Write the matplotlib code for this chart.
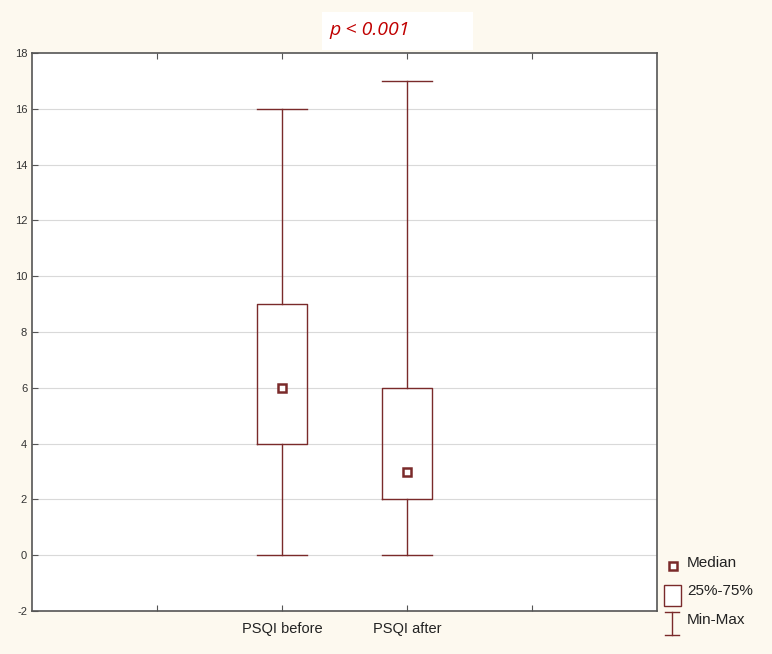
import matplotlib
matplotlib.use("Agg")
import matplotlib.pyplot as plt
from matplotlib.patches import Rectangle
from matplotlib.lines import Line2D

categories = ["PSQI before", "PSQI after"]
mins = [0, 0]
q1s = [4, 2]
medians = [6, 3]
q3s = [9, 6]
maxs = [16, 17]
positions = [2, 3]
p_text = "p < 0.001"

plt.rcParams['font.family'] = ['Liberation Sans', 'DejaVu Sans']
plt.rcParams['axes.unicode_minus'] = False

BG = "#fdf9ef"
DARK = "#7a2a2a"

fig = plt.figure(figsize=(7.72, 6.54), dpi=100, facecolor=BG)
ax = fig.add_axes([32/772, 1-611/654, 625/772, 558/654])
ax.set_facecolor("white")

stats = []
for c, lo, a, m, b, hi in zip(categories, mins, q1s, medians, q3s, maxs):
    stats.append(dict(label=c, whislo=lo, q1=a, med=m, q3=b, whishi=hi, fliers=[]))

ax.bxp(stats, positions=positions, widths=0.4, capwidths=0.4, showfliers=False,
       boxprops=dict(color=DARK, linewidth=1.0),
       whiskerprops=dict(color=DARK, linewidth=1.0),
       capprops=dict(color=DARK, linewidth=1.0),
       medianprops=dict(linestyle='none'),
       zorder=3)
ax.plot(positions, medians, linestyle='none', marker='s', markersize=6,
        markerfacecolor='white', markeredgecolor=DARK, markeredgewidth=1.8, zorder=4)

ax.set_xlim(0, 5)
ax.set_ylim(-2, 18)
ax.set_yticks(range(-2, 19, 2))
ax.set_xticks([1, 2, 3, 4])
ax.set_xticklabels(["", categories[0], categories[1], ""], fontsize=10.5)
ax.tick_params(axis='y', labelsize=8, direction='in', length=4, color='#555555', labelcolor='#333333')
ax.tick_params(axis='x', direction='in', length=4, color='#555555', labelcolor='#222222', pad=8)
ax.tick_params(axis='x', top=True)
for yv in range(0, 17, 2):
    ax.axhline(yv, color='#d9d9d9', linewidth=0.8, zorder=1)
for s in ax.spines.values():
    s.set_color('#555555')
    s.set_linewidth(1.2)

# p-value box
fig.patches.append(Rectangle((322/772, 1-50/654), 151/772, 38/654, transform=fig.transFigure,
                             facecolor='white', edgecolor='none', zorder=0))
fig.text(370/772, 1-30/654, p_text, color='#c00000', style='italic', fontsize=14,
         ha='center', va='center', family=['Open Sans', 'DejaVu Sans'])

# legend (drawn manually in figure coordinates)
fig.add_artist(Line2D([673/772], [1-566/654], marker='s', markersize=5.5, markerfacecolor='white',
                      markeredgecolor=DARK, markeredgewidth=1.8, linestyle='none', transform=fig.transFigure))
fig.text(687/772, 1-563/654, "Median", fontsize=11, va='center', color='#222222')
fig.patches.append(Rectangle((664/772, 1-606/654), 17/772, 21/654, transform=fig.transFigure,
                             facecolor='white', edgecolor=DARK, linewidth=1.0))
fig.text(687/772, 1-591/654, "25%-75%", fontsize=11, va='center', color='#222222')
fig.add_artist(Line2D([672/772, 672/772], [1-612/654, 1-635/654], color=DARK, linewidth=1.0, transform=fig.transFigure))
fig.add_artist(Line2D([665/772, 679/772], [1-612/654, 1-612/654], color=DARK, linewidth=1.0, transform=fig.transFigure))
fig.add_artist(Line2D([665/772, 679/772], [1-635/654, 1-635/654], color=DARK, linewidth=1.0, transform=fig.transFigure))
fig.text(687/772, 1-620/654, "Min-Max", fontsize=11, va='center', color='#222222')

fig.savefig("out.png", dpi=100, facecolor=BG)
